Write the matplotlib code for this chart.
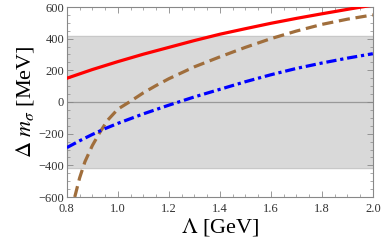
import numpy as np
import matplotlib
matplotlib.use('Agg')
import matplotlib.pyplot as plt
from matplotlib.ticker import MultipleLocator

# values
lam_red = [0.8, 0.9, 1.0, 1.1, 1.2, 1.3, 1.4, 1.5, 1.6, 1.7, 1.8, 1.9, 2.0]
dm_red = [150, 205, 255, 302, 345, 388, 428, 463, 497, 528, 557, 585, 612]

lam_brown = [0.831, 0.85, 0.871, 0.9, 0.93, 0.96, 1.0, 1.05, 1.1, 1.15, 1.2,
             1.3, 1.4, 1.5, 1.6, 1.7, 1.8, 1.9, 2.0]
dm_brown = [-600, -480, -377, -275, -190, -115, -45, 5, 58, 104, 147,
            222, 285, 345, 400, 448, 490, 523, 550]

lam_blue = [0.8, 0.85, 0.9, 0.95, 1.0, 1.1, 1.2, 1.3, 1.4, 1.5, 1.6, 1.7,
            1.8, 1.9, 2.0]
dm_blue = [-288, -245, -205, -168, -135, -75, -20, 32, 80, 128, 172, 212,
           246, 277, 305]

band = 415

plt.rcParams['font.family'] = ['Liberation Serif', 'DejaVu Serif']
plt.rcParams['mathtext.fontset'] = 'stix'

fig = plt.figure(figsize=(3.82, 2.5), dpi=100)
ax = fig.add_axes([0.175, 0.212, 0.801, 0.76])

ax.axhspan(-band, band, color='#d9d9d9', zorder=0)
ax.axhline(band, color='#c8c8c8', lw=0.8, zorder=1)
ax.axhline(-band, color='#c8c8c8', lw=0.8, zorder=1)
ax.axhline(0, color='#999999', lw=0.9, zorder=1)

ax.plot(lam_red, dm_red, color='#ff0000', lw=2.3, zorder=3)
ax.plot(lam_brown, dm_brown, color='#a06e3c', lw=2.3, dashes=(3.5, 1.8), zorder=3)
ax.plot(lam_blue, dm_blue, color='#0000ff', lw=2.3, dashes=(3.2, 1.2, 1.0, 1.2), zorder=3)

ax.set_xlim(0.8, 2.0)
ax.set_ylim(-600, 600)
ax.xaxis.set_minor_locator(MultipleLocator(0.05))
ax.yaxis.set_minor_locator(MultipleLocator(50))
ax.set_xticks([0.8, 1.0, 1.2, 1.4, 1.6, 1.8, 2.0])
ax.set_xticklabels(['0.8', '1.0', '1.2', '1.4', '1.6', '1.8', '2.0'])
ax.set_yticks([-600, -400, -200, 0, 200, 400, 600])
ax.set_yticklabels(['\u2212600', '\u2212400', '\u2212200', '0', '200', '400', '600'])

for s in ax.spines.values():
    s.set_color('#888888')
    s.set_linewidth(0.8)
ax.tick_params(which='both', direction='in', top=True, right=True,
               color='#888888', labelsize=9, labelcolor='#333333')
ax.tick_params(axis='x', pad=4)
ax.tick_params(axis='y', pad=2)
ax.tick_params(which='major', length=4, width=0.6)
ax.tick_params(which='minor', length=2, width=0.5)

ax.set_xlabel(r'$\Lambda$ [GeV]', fontsize=16, labelpad=1)
ax.set_ylabel(r'$\Delta\ m_\sigma$ [MeV]', fontsize=16, labelpad=2)

fig.savefig('out.png', dpi=100)
